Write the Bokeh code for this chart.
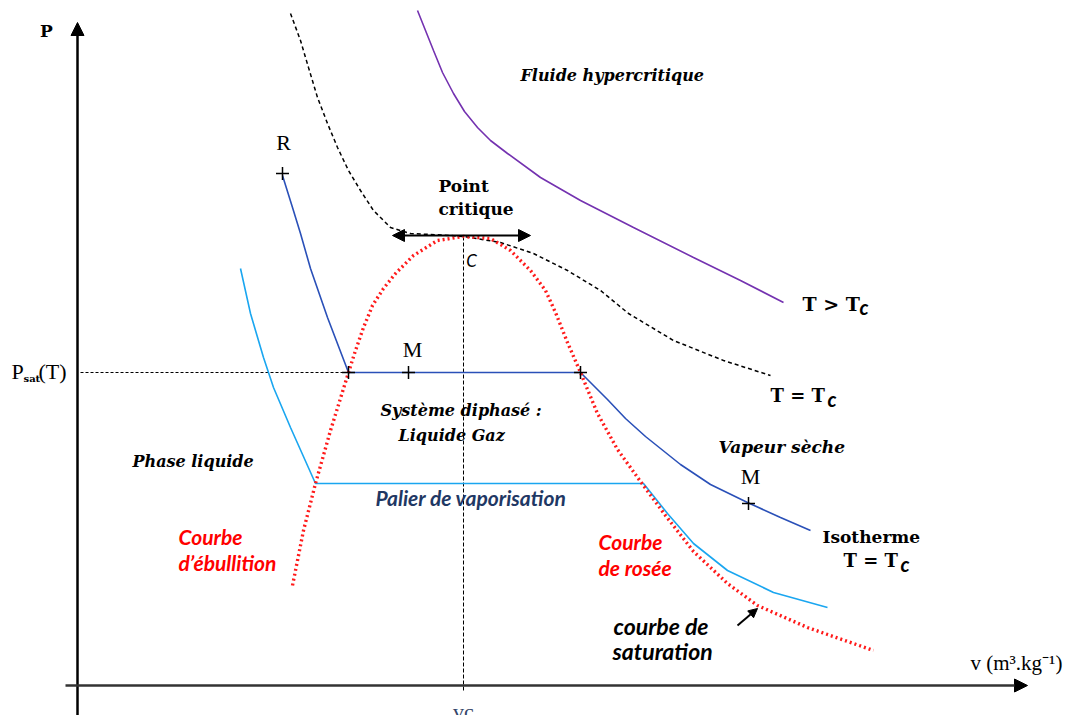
from bokeh.plotting import figure
from bokeh.models import Range1d, Arrow, NormalHead
from bokeh.core.properties import value
from bokeh.embed import file_html
from bokeh.resources import INLINE

# ---- data (v, P in arbitrary diagram units; origin at the axes crossing) ----
sat_v = [215, 226, 238, 253, 271, 278, 286, 295, 306, 318, 336, 360, 386, 413, 433, 453, 468,
         478, 490, 503, 520, 540, 563, 588, 616, 650, 680, 730, 796]
sat_P = [100, 155, 202, 255, 313, 335, 358, 380, 397, 412, 430, 445, 449, 447, 435, 415, 395,
         373, 343, 313, 272, 236, 204, 170, 134, 102, 80, 58, 35]

crit_v = [213, 223, 231, 240, 250, 260, 271, 283, 296, 313, 333, 373, 386, 423, 456, 490, 523,
          551, 596, 646, 693]
crit_P = [672, 645, 618, 588, 562, 538, 515, 495, 475, 458, 452, 450, 449, 443, 432, 415, 395,
          372, 345, 325, 310]

hyper_v = [340, 348, 356, 365, 376, 387, 400, 413, 430, 463, 503, 556, 616, 663, 706]
hyper_P = [675, 655, 635, 613, 592, 574, 558, 545, 532, 508, 485, 458, 428, 405, 383]

iso1_v = [205, 215, 223, 233, 250, 271, 503, 530, 548, 568, 603, 633, 670, 703, 733]
iso1_P = [510, 478, 452, 417, 368, 313, 313, 286, 267, 249, 221, 201, 183, 168, 155]

iso2_v = [163, 173, 186, 196, 213, 238, 566, 590, 616, 650, 696, 750]
iso2_P = [417, 372, 328, 298, 258, 202, 202, 172, 142, 115, 93, 78]

vc = 386
Pc = 449
Psat = 313
v_liq = 271

marker_v = [205, 271, 331, 503, 671]
marker_P = [512, 313, 313, 313, 182]

p = figure(width=1072, height=715, output_backend="svg", toolbar_location=None,
           x_range=Range1d(-77, 995), y_range=Range1d(-30, 685),
           min_border=0, outline_line_color=None, x_axis_type=None, y_axis_type=None)
p.grid.visible = False
p.background_fill_color = "white"
p.border_fill_color = "white"

# axes
p.add_layout(Arrow(end=NormalHead(size=13, fill_color="black", line_color="black"),
                   x_start=0, y_start=-30, x_end=0, y_end=663, line_width=2.5, line_color="black"))
p.add_layout(Arrow(end=NormalHead(size=13, fill_color="black", line_color="black"),
                   x_start=-12, y_start=0, x_end=950, y_end=0, line_width=2.5, line_color="#333333"))

# guides
p.line([3, v_liq], [Psat, Psat], line_color="black", line_width=1, line_dash="3 2")
p.line([vc, vc], [Pc, -7], line_color="black", line_width=1, line_dash="4 2")

# curves
p.line(hyper_v, hyper_P, line_color="#7432b0", line_width=1.6)
p.line(crit_v, crit_P, line_color="black", line_width=1.5, line_dash="4 3")
p.line(iso2_v, iso2_P, line_color="#1aa6f0", line_width=1.6)
p.line(iso1_v, iso1_P, line_color="#2a50b8", line_width=1.6)
p.line(sat_v, sat_P, line_color="#ff1a1a", line_width=3.4, line_dash="2 3")

# critical point double arrow
p.add_layout(Arrow(start=NormalHead(size=12, fill_color="black", line_color="black"),
                   end=NormalHead(size=12, fill_color="black", line_color="black"),
                   x_start=315, y_start=450, x_end=453, y_end=450, line_width=2, line_color="black"))
# saturation pointer
p.add_layout(Arrow(end=NormalHead(size=9, fill_color="black", line_color="black"),
                   x_start=660, y_start=60, x_end=680, y_end=77, line_width=2, line_color="black"))

p.scatter(marker_v, marker_P, marker="cross", size=13, line_color="black", line_width=1.5)

serif = value("Times")
bserif = value("DejaVu Serif")
sans = value("Lato")

def txt(x, y, s, font, size, style="normal", color="black", align="left"):
    p.text(x=[x], y=[y], text=[s], text_font=font, text_font_size=size,
           text_font_style=style, text_color=color, text_align=align,
           text_baseline="middle")

# axis labels
txt(-31, 655, "P", bserif, "17px", "bold", align="center")
txt(-66, 314, "P", serif, "22px")
txt(-54, 307, "sat", bserif, "10px", "bold")
txt(-39, 314, "(T)", serif, "22px")
txt(893, 23, "v (m³.kg⁻¹)", serif, "21px")
txt(386, -26, "vc", serif, "22px", color="#34466a", align="center")

# points
txt(206, 543, "R", serif, "22px", align="center")
txt(335, 336, "M", serif, "22px", align="center")
txt(673, 209, "M", serif, "22px", align="center")
txt(394, 425, "C", sans, "17px", "italic", align="center")

# region labels
txt(361, 500, "Point", bserif, "17px", "bold")
txt(361, 477, "critique", bserif, "17px", "bold")
txt(443, 610, "Fluide hypercritique", bserif, "16px", "bold italic")
txt(725, 382, "T > T", bserif, "19px", "bold")
txt(782, 379, "c", sans, "20px", "bold italic")
txt(693, 290, "T = T", bserif, "18px", "bold")
txt(750, 287, "c", sans, "20px", "bold italic")
txt(641, 239, "Vapeur sèche", bserif, "17px", "bold italic")
txt(745, 149, "Isotherme", bserif, "17px", "bold")
txt(766, 125, "T = T", bserif, "18px", "bold")
txt(823, 122, "c", sans, "20px", "bold italic")
txt(303, 275, "Système diphasé :", bserif, "16px", "bold italic")
txt(321, 250, "Liquide Gaz", bserif, "16px", "bold italic")
txt(55, 224, "Phase liquide", bserif, "16px", "bold italic")
txt(298, 188, "Palier de vaporisation", sans, "21px", "bold italic", color="#1f3864")
txt(101, 149, "Courbe", sans, "21px", "bold italic", color="#ff0000")
txt(101, 123, "d’ébullition", sans, "21px", "bold italic", color="#ff0000")
txt(521, 144, "Courbe", sans, "21px", "bold italic", color="#ff0000")
txt(521, 118, "de rosée", sans, "21px", "bold italic", color="#ff0000")
txt(536, 60, "courbe de", sans, "23px", "bold italic")
txt(535, 35, "saturation", sans, "23px", "bold italic")

open("out.html", "w").write(file_html(p, INLINE))
